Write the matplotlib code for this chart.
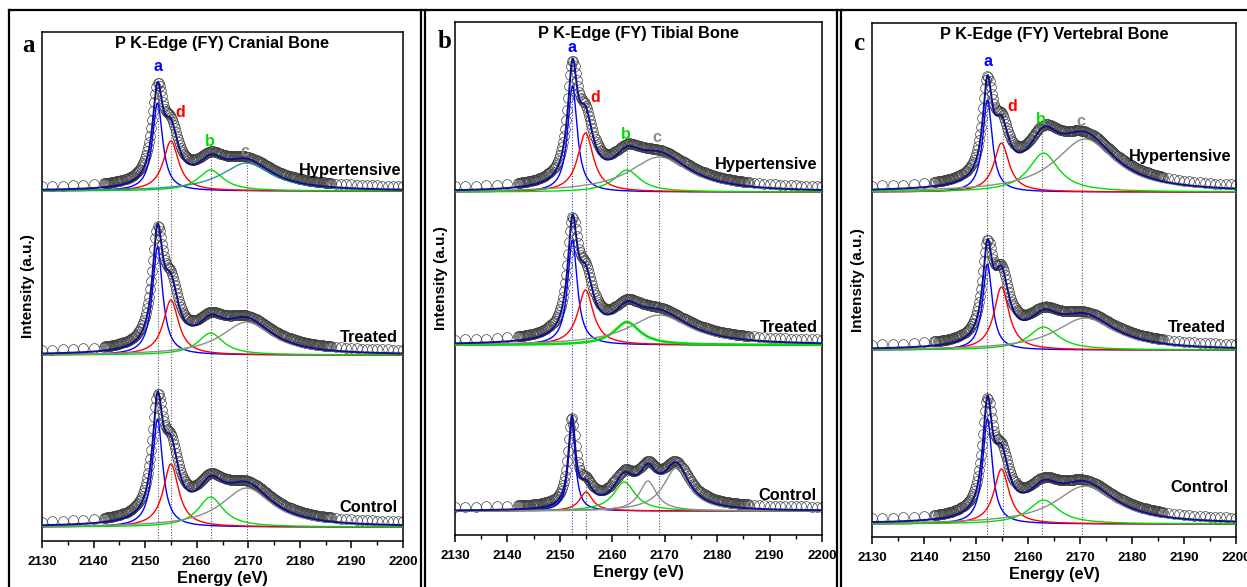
import numpy as np
import matplotlib
matplotlib.use("Agg")
import matplotlib.pyplot as plt
from matplotlib.lines import Line2D
from matplotlib.ticker import MultipleLocator

plt.rcParams['font.family'] = ['Liberation Sans', 'DejaVu Sans']
plt.rcParams['font.weight'] = 'bold'
plt.rcParams['axes.labelweight'] = 'bold'

W, H = 1247, 587

samples = ['Hypertensive', 'Treated', 'Control']
peak_names = ['a', 'd', 'b', 'c']

# component peaks a, d, b, c: centre (eV), FWHM (eV), height per sample
cranial_centers = [2152.4, 2155.0, 2162.7, 2169.7]
cranial_fwhm = [2.4, 3.6, 6.0, 12.0]
cranial_hyp = [0.88, 0.50, 0.21, 0.28]
cranial_treated = [1.08, 0.55, 0.22, 0.33]
cranial_control = [1.08, 0.63, 0.30, 0.39]
cranial_offsets = [3.50, 1.86, 0.14]

tibial_centers = [2152.4, 2154.9, 2162.8, 2169.0]
tibial_fwhm = [2.2, 3.6, 6.0, 14.0]
tibial_hyp = [1.06, 0.59, 0.22, 0.35]
tibial_treated = [1.05, 0.55, 0.23, 0.30]
tibial_control_centers = [2152.3, 2155.0, 2162.3, 2166.8, 2172.2]
tibial_control_fwhm = [1.6, 3.0, 5.0, 4.0, 6.0]
tibial_control = [0.88, 0.19, 0.29, 0.30, 0.43]
tibial_offsets = [3.43, 1.90, 0.24]

vertebral_centers = [2152.2, 2154.9, 2163.0, 2171.0]
vertebral_fwhm = [2.2, 3.5, 7.0, 14.0]
vertebral_hyp = [0.92, 0.49, 0.39, 0.53]
vertebral_treated = [0.86, 0.63, 0.23, 0.32]
vertebral_control = [1.05, 0.55, 0.24, 0.38]
vertebral_offsets = [3.45, 1.87, 0.13]

# measured points: sparse below the edge, dense through it, medium after
e_data = np.concatenate([np.arange(2130, 2142, 2.0),
                         np.arange(2142, 2186, 0.2),
                         np.arange(2186, 2200.5, 1.0)])
e_line = np.linspace(2130, 2200, 1401)


def lorentz(e, c, h, w):
    return h / (1 + ((e - c) / (w / 2)) ** 2)


def total(e, centers, heights, fwhm, scale=1.0):
    return sum(lorentz(e, c, h, w * scale) for c, h, w in zip(centers, heights, fwhm))


comp_colors = ['#0000ff', '#ff0000', '#00dd00', '#8c8c8c', '#8c8c8c']
fit_color = '#10108a'

panels = [
    dict(title='P K-Edge (FY) Cranial Bone', letter='a',
         rect=(42, 32, 403, 541),
         spectra=[(cranial_centers, cranial_hyp, cranial_fwhm),
                  (cranial_centers, cranial_treated, cranial_fwhm),
                  (cranial_centers, cranial_control, cranial_fwhm)],
         offsets=cranial_offsets, lines=cranial_centers,
         label_y=[3.70, 2.03, 0.33], label_x=[2199.6, 2199, 2199],
         peak_lab=[(2152.4, 4.74), (2156.8, 4.28), (2162.6, 4.00), (2169.4, 3.90)],
         hyp_c='#2a9595', letter_xy=(22, 52)),
    dict(title='P K-Edge (FY) Tibial Bone', letter='b',
         rect=(455, 22, 822, 535),
         spectra=[(tibial_centers, tibial_hyp, tibial_fwhm),
                  (tibial_centers, tibial_treated, tibial_fwhm),
                  (tibial_control_centers, tibial_control, tibial_control_fwhm)],
         offsets=tibial_offsets, lines=tibial_centers,
         label_y=[3.70, 2.07, 0.40], label_x=[2199.2, 2199.2, 2199],
         peak_lab=[(2152.4, 4.88), (2156.7, 4.37), (2162.6, 4.00), (2168.5, 3.97)],
         hyp_c='#8c8c8c', letter_xy=(438, 48)),
    dict(title='P K-Edge (FY) Vertebral Bone', letter='c',
         rect=(872, 23, 1236, 537),
         spectra=[(vertebral_centers, vertebral_hyp, vertebral_fwhm),
                  (vertebral_centers, vertebral_treated, vertebral_fwhm),
                  (vertebral_centers, vertebral_control, vertebral_fwhm)],
         offsets=vertebral_offsets, lines=[2152.2, 2155.2, 2162.75, 2170.4],
         label_y=[3.80, 2.09, 0.49], label_x=[2199.2, 2198, 2198.5],
         peak_lab=[(2152.3, 4.76), (2157.0, 4.31), (2162.5, 4.17), (2170.2, 4.16)],
         hyp_c='#8c8c8c', letter_xy=(853, 50)),
]

fig = plt.figure(figsize=(W / 100, H / 100), dpi=100)

for p in panels:
    x0, y0, x1, y1 = p['rect']
    ax = fig.add_axes([x0 / W, 1 - y1 / H, (x1 - x0) / W, (y1 - y0) / H])
    ax.set_xlim(2130, 2200)
    ax.set_ylim(0, (y1 - y0) / 100)

    for i, (centers, heights, fwhm) in enumerate(p['spectra']):
        off = p['offsets'][i]
        for k, (c, h, w) in enumerate(zip(centers, heights, fwhm)):
            col = comp_colors[k]
            if i == 0 and k == 3:
                col = p['hyp_c']
            lw = 1.8 if (p['letter'] == 'b' and i == 1 and k == 2) else 1.0
            ax.plot(e_line, lorentz(e_line, c, h, w) + off, color=col, lw=lw, zorder=3)
        data = total(e_data, centers, heights, fwhm, scale=1.1) * 0.93 + 0.035
        ax.plot(e_data, data + off, 'o', mfc='none', mec='#404040', ms=7, mew=0.5, zorder=2)
        ax.plot(e_line, total(e_line, centers, heights, fwhm) + off,
                color=fit_color, lw=1.4, zorder=4)
        ax.text(p['label_x'][i], p['label_y'][i], samples[i], ha='right', va='center',
                fontsize=11.8, fontweight='bold', zorder=6)

    # dotted guide lines up to the hypertensive peaks
    hc, hh, hw = p['spectra'][0]
    for k, xv in enumerate(p['lines']):
        top = total(np.array([xv]), hc, hh, hw)[0] + p['offsets'][0]
        col = '#3333cc' if (p['letter'] == 'b' and k == 0) else '#555555'
        ax.plot([xv, xv], [0, top], ls=(0, (1, 1.5)), color=col, lw=0.8, zorder=1)

    for k, (lx, ly) in enumerate(p['peak_lab']):
        col = '#8c8c8c' if k == 3 else comp_colors[k]
        ax.text(lx, ly, peak_names[k], color=col, ha='center', va='center',
                fontsize=11.5, fontweight='bold', zorder=6)

    ax.text(0.5, 0.993, p['title'], transform=ax.transAxes, ha='center', va='top',
            fontsize=11.8, fontweight='bold')
    ax.set_yticks([])
    ax.xaxis.set_major_locator(MultipleLocator(10))
    ax.xaxis.set_minor_locator(MultipleLocator(5))
    ax.tick_params(axis='x', which='major', direction='out', length=5, width=1.1,
                   labelsize=9.5, pad=6)
    ax.tick_params(axis='x', which='minor', direction='out', length=3, width=1.0)
    for lbl in ax.get_xticklabels():
        lbl.set_fontweight('bold')
    for s in ax.spines.values():
        s.set_linewidth(1.1)
    ax.set_xlabel('Energy (eV)', fontsize=11.8, labelpad=2)
    ax.set_ylabel('Intensity (a.u.)', fontsize=11, labelpad=5)

    lx, ly = p['letter_xy']
    fig.text(lx / W, 1 - ly / H, p['letter'], family=['Liberation Serif', 'DejaVu Serif'],
             fontweight='bold', fontsize=18, ha='left', va='baseline', zorder=-1)

# outer frames of the three sub-figures
frame_x = [9, 421, 425, 837, 841]
for xv in frame_x:
    fig.add_artist(Line2D([xv / W, xv / W], [0, 1 - 10 / H], transform=fig.transFigure,
                          color='black', lw=1.6))
fig.add_artist(Line2D([9 / W, 1], [1 - 10 / H, 1 - 10 / H], transform=fig.transFigure,
                      color='black', lw=1.6))

fig.savefig('out.png', dpi=100)
